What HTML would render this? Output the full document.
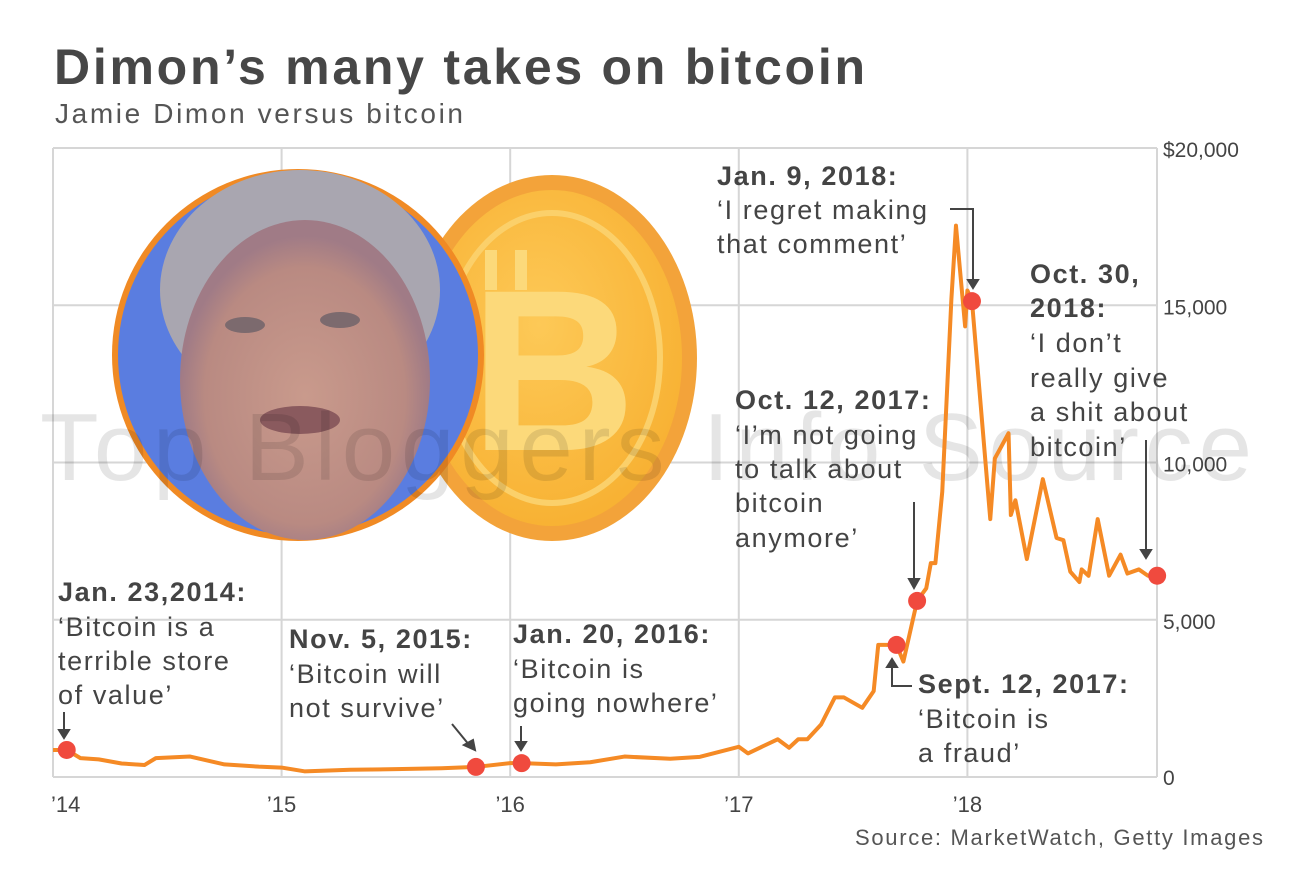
<!DOCTYPE html>
<html><head><meta charset="utf-8">
<style>
html,body{margin:0;padding:0;background:#fff;}
body{width:1298px;height:890px;overflow:hidden;font-family:"Liberation Sans",sans-serif;}
svg text{font-family:"Liberation Sans",sans-serif;}
#ann text{letter-spacing:1.6px;}
</style></head>
<body>
<svg id="chart" width="1298" height="890" viewBox="0 0 1298 890" xmlns="http://www.w3.org/2000/svg">
  <text x="54" y="84" font-size="50" font-weight="bold" fill="#474747" textLength="811" lengthAdjust="spacing">Dimon’s many takes on bitcoin</text>
  <text x="55" y="123" font-size="28" fill="#555" textLength="408" lengthAdjust="spacing">Jamie Dimon versus bitcoin</text>
  <g id="grid"></g>
  <g>
    <defs>
      <radialGradient id="coinG" cx="0.45" cy="0.4" r="0.7">
        <stop offset="0" stop-color="#fdc957"/><stop offset="1" stop-color="#f7ae2e"/>
      </radialGradient>
      <radialGradient id="faceG" cx="0.5" cy="0.55" r="0.5">
        <stop offset="0" stop-color="#c99a8c"/><stop offset="0.8" stop-color="#b98a82"/><stop offset="1" stop-color="#a07b86"/>
      </radialGradient>
    </defs>
    <ellipse cx="552" cy="358" rx="145" ry="183" fill="#f3a33a"/>
    <ellipse cx="552" cy="358" rx="130" ry="168" fill="url(#coinG)"/>
    <ellipse cx="552" cy="358" rx="108" ry="145" fill="none" stroke="#fbd06a" stroke-width="6"/>
    <text x="470" y="450" font-size="230" font-weight="bold" fill="#fcd97a">B</text>
    <rect x="485" y="250" width="12" height="40" fill="#fcd97a"/><rect x="515" y="250" width="12" height="40" fill="#fcd97a"/>
    <ellipse cx="298" cy="355" rx="186" ry="186" fill="#f08a24"/>
    <ellipse cx="298" cy="355" rx="180" ry="180" fill="#5a7de0"/>
    <ellipse cx="300" cy="290" rx="140" ry="120" fill="#a9a6b0"/>
    <ellipse cx="305" cy="380" rx="125" ry="160" fill="url(#faceG)"/>
    <ellipse cx="245" cy="325" rx="20" ry="8" fill="#7c6a6e"/>
    <ellipse cx="340" cy="320" rx="20" ry="8" fill="#7c6a6e"/>
    <ellipse cx="300" cy="420" rx="40" ry="14" fill="#8a5a5e"/>
  </g>
  <text x="40" y="480" font-size="96" fill="#000" fill-opacity="0.1" textLength="1212" lengthAdjust="spacing">Top Bloggers Info Source</text>
  <g id="line-layer"></g>
  <g id="ann" fill="#444" font-size="27">
    <text x="58" y="601" font-weight="bold">Jan. 23,2014:</text>
    <text x="58" y="636">‘Bitcoin is a</text>
    <text x="58" y="670">terrible store</text>
    <text x="58" y="704">of value’</text>
    <text x="289" y="648" font-weight="bold">Nov. 5, 2015:</text>
    <text x="289" y="683">‘Bitcoin will</text>
    <text x="289" y="717">not survive’</text>
    <text x="513" y="643" font-weight="bold">Jan. 20, 2016:</text>
    <text x="513" y="678">‘Bitcoin is</text>
    <text x="513" y="712">going nowhere’</text>
    <text x="735" y="409" font-weight="bold">Oct. 12, 2017:</text>
    <text x="735" y="444">‘I’m not going</text>
    <text x="735" y="478">to talk about</text>
    <text x="735" y="512">bitcoin</text>
    <text x="735" y="547">anymore’</text>
    <text x="918" y="693" font-weight="bold">Sept. 12, 2017:</text>
    <text x="918" y="728">‘Bitcoin is</text>
    <text x="918" y="762">a fraud’</text>
    <text x="717" y="185" font-weight="bold">Jan. 9, 2018:</text>
    <text x="717" y="219">‘I regret making</text>
    <text x="717" y="253">that comment’</text>
    <text x="1030" y="283" font-weight="bold">Oct. 30,</text>
    <text x="1030" y="317" font-weight="bold">2018:</text>
    <text x="1030" y="352">‘I don’t</text>
    <text x="1030" y="387">really give</text>
    <text x="1030" y="421">a shit about</text>
    <text x="1030" y="456">bitcoin’</text>
  </g>
  <g stroke="#444" stroke-width="2" fill="#444">
    <line x1="64" y1="712" x2="64" y2="734"/><polygon points="59,730 69,730 64,738"/>
    <line x1="452" y1="724" x2="470" y2="746"/><polygon points="464,745 473,740 475,750"/>
    <line x1="521" y1="726" x2="521" y2="746"/><polygon points="516,742 526,742 521,750"/>
    <line x1="914" y1="502" x2="914" y2="583"/><polygon points="909,579 919,579 914,588"/>
    <polyline points="912,686 892,686 892,664" fill="none"/><polygon points="887,667 897,667 892,659"/>
    <polyline points="950,209 973,209 973,283" fill="none"/><polygon points="968,280 978,280 973,288"/>
    <line x1="1146" y1="440" x2="1146" y2="553"/><polygon points="1141,550 1151,550 1146,558"/>
  </g>
  <text x="1263" y="845" text-anchor="end" font-size="22" fill="#555" textLength="408" lengthAdjust="spacing">Source: MarketWatch, Getty Images</text>
</svg>
<script>
const yTicks=[0,5000,10000,15000,20000];
const yTickLabels=["0","5,000","10,000","15,000","$20,000"];
const xTicks=[2014,2015,2016,2017,2018];
const xTickLabels=["’14","’15","’16","’17","’18"];
const dates=[2014.0,2014.06,2014.12,2014.2,2014.3,2014.4,2014.45,2014.6,2014.75,2014.9,2015.0,2015.1,2015.3,2015.5,2015.7,2015.85,2016.0,2016.05,2016.2,2016.35,2016.5,2016.7,2016.83,2017.0,2017.04,2017.17,2017.22,2017.26,2017.3,2017.36,2017.42,2017.46,2017.54,2017.59,2017.61,2017.69,2017.72,2017.78,2017.82,2017.84,2017.86,2017.89,2017.93,2017.95,2017.99,2018.0,2018.02,2018.1,2018.12,2018.18,2018.19,2018.21,2018.26,2018.33,2018.39,2018.42,2018.45,2018.49,2018.5,2018.53,2018.57,2018.62,2018.67,2018.7,2018.75,2018.79,2018.83];
const prices=[860,860,600,560,430,380,600,650,400,330,300,180,230,250,280,320,440,440,400,470,650,580,640,960,750,1200,930,1200,1200,1670,2530,2530,2200,2730,4200,4200,3670,5600,6000,6800,6800,9070,15200,17530,14330,15470,15130,8200,10130,10930,8330,8800,6930,9470,7600,7530,6530,6200,6600,6400,8200,6400,7070,6470,6600,6400,6400];
const eventDates=[2014.06,2015.85,2016.05,2017.69,2017.78,2018.02,2018.83];
const eventPrices=[860,320,440,4200,5600,15130,6400];
const eventNames=['event-jan-2014','event-nov-2015','event-jan-2016','event-sep-2017','event-oct-2017','event-jan-2018','event-oct-2018'];

const L=53,R=1157,T=148,B=777;
const X=t=>L+(t-2014)*228.6;
const Y=v=>B-(v/20000)*(B-T);
const NS='http://www.w3.org/2000/svg';
function mk(tag,attrs,parent){const e=document.createElementNS(NS,tag);for(const k in attrs)e.setAttribute(k,attrs[k]);parent.appendChild(e);return e;}
const grid=document.getElementById('grid');
yTicks.forEach((v,i)=>{
  const ln=mk('line',{x1:L,x2:R,y1:Y(v),y2:Y(v),stroke:'#d6d6d6','stroke-width':2},grid);
  
  
  const tx=mk('text',{x:1163,y:Y(v)+(v===0?8:9),'font-size':21,fill:'#444'},grid);
  tx.textContent=yTickLabels[i];
  
  
});
xTicks.forEach((t,i)=>{
  const ln=mk('line',{x1:X(t),x2:X(t),y1:T,y2:B,stroke:'#d6d6d6','stroke-width':2},grid);
  
  
  const tx=mk('text',{x:X(t)+(i===0?-2:0),y:812,'font-size':22,fill:'#444','text-anchor':i===0?'start':'middle'},grid);
  tx.textContent=xTickLabels[i];
  
  
});
const rl=mk('line',{x1:R,x2:R,y1:T,y2:B,stroke:'#d6d6d6','stroke-width':2},grid);


const layer=document.getElementById('line-layer');
const path=mk('polyline',{points:dates.map((d,i)=>X(d)+','+Y(prices[i])).join(' '),fill:'none',stroke:'#f58a25','stroke-width':4,'stroke-linejoin':'round'},layer);


eventDates.forEach((d,i)=>{
  const c=mk('circle',{cx:X(d),cy:Y(eventPrices[i]),r:9,fill:'#f04a3e'},layer);
  
  
});
</script>
</body></html>
